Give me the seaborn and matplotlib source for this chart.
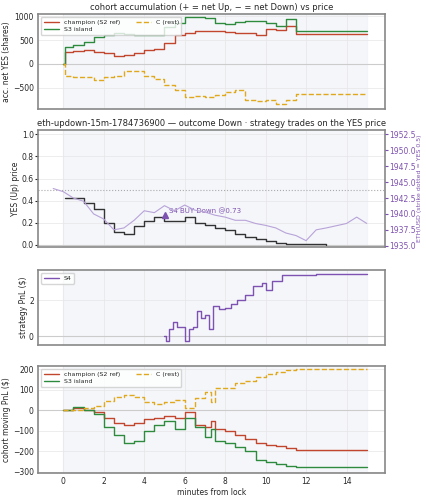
import matplotlib
matplotlib.use("Agg")
import matplotlib.pyplot as plt
import seaborn as sns
import pandas as pd

sns.set_style("whitegrid")
plt.rcParams['font.family'] = ['DejaVu Sans']
plt.rcParams['font.size'] = 5.5

t1 = [0,0.1,0.5,1,1.5,2,2.5,3,3.5,4,4.5,5,5.5,6,6.5,7,7.5,8,8.5,9,9.5,10,10.5,11,11.5,15]
acc_champ = [0,250,270,290,250,230,160,180,230,300,320,440,600,660,700,700,700,680,650,650,610,740,720,790,620,620]
acc_s3 = [0,350,400,470,560,610,640,620,610,600,600,770,870,990,990,970,860,850,880,900,900,860,800,940,700,700]
acc_c = [0,-250,-280,-270,-330,-280,-250,-150,-150,-250,-320,-440,-560,-700,-670,-690,-660,-600,-560,-760,-780,-760,-850,-760,-630,-630]

t_yes = [0.1,0.5,1,1.5,2,2.5,3,3.5,4,4.5,5,5.5,6,6.5,7,7.5,8,8.5,9,9.5,10,10.5,11,12,13]
yes_px = [0.42,0.42,0.38,0.32,0.2,0.12,0.1,0.17,0.22,0.25,0.22,0.22,0.25,0.2,0.18,0.15,0.13,0.1,0.07,0.05,0.03,0.02,0.01,0.005,0.0]
t_eth = [-0.5,0,0.5,1,1.5,2,2.5,3,3.5,4,4.5,5,5.5,6,6.5,7,7.5,8,8.5,9,9.5,10,10.5,11,11.5,12,12.5,13,14,14.5,15]
eth = [1944.0,1943.5,1942.5,1942,1940,1939.2,1937.5,1937.8,1939,1940.5,1940.2,1941.3,1940.5,1941.4,1940.6,1940.3,1939.8,1939.5,1939,1939,1938.5,1938.2,1937.8,1937,1936.6,1935.8,1937.5,1937.8,1938.5,1939.5,1938.5]

t_s4 = [5,5.1,5.2,5.4,5.6,5.8,6,6.2,6.4,6.6,6.8,7,7.2,7.4,7.7,8,8.3,8.6,9,9.4,9.8,10,10.3,10.8,12.5,15]
pnl_s4 = [0,-0.3,0.4,0.8,0.5,0.5,-0.3,0.4,0.5,1.4,1.0,1.2,0.4,1.7,1.5,1.6,1.8,2.0,2.3,2.8,3.0,2.6,3.1,3.4,3.5,3.5]

t4 = [0,0.5,1,1.5,2,2.5,3,3.5,4,4.5,5,5.5,6,6.5,7,7.3,7.5,8,8.5,9,9.5,10,10.5,11,11.5,15]
pnl_champ = [0,10,0,-10,-40,-60,-70,-60,-45,-40,-30,-40,-10,-70,-80,-50,-90,-100,-120,-140,-160,-170,-175,-185,-195,-195]
pnl_s3 = [0,15,0,-20,-80,-120,-160,-150,-100,-70,-50,-90,-40,-80,-130,-90,-150,-160,-180,-200,-240,-250,-260,-270,-275,-275]
pnl_c = [0,0,10,20,45,65,75,65,40,30,40,50,10,60,90,40,110,110,130,140,160,175,185,195,200,200]

C_CH, C_S3, C_C, C_P = "#c2452d", "#2e8b3e", "#e0a81c", "#7e52b0"

fig = plt.figure(figsize=(4.27, 5.0), dpi=100)
W = 427; H = 500
def ax_at(x0, y0, x1, y1):
    return fig.add_axes([x0/W, 1-y1/H, (x1-x0)/W, (y1-y0)/H])
axs = [ax_at(38,14,385,109), ax_at(38,130,385,247), ax_at(38,270,385,345), ax_at(38,366,385,473)]

def style(ax):
    ax.set_xlim(-1.25, 15.9)
    ax.axvspan(0, 15, color="#eef1f8", alpha=0.6, zorder=0)
    ax.axhline(0, color="#cccccc", lw=0.8, zorder=1)
    for s in ax.spines.values():
        s.set_color("#888888"); s.set_linewidth(1.2)
    ax.grid(color="#e6e6e6", lw=0.5)
    ax.tick_params(labelsize=5.5, length=2, pad=1)
    ax.set_xticks([0,2,4,6,8,10,12,14])

def step(ax, x, y, c, label, ls="-"):
    sns.lineplot(x=x, y=y, ax=ax, color=c, label=label, drawstyle="steps-post", lw=1.0, linestyle=ls)

def leg(ax, ncol):
    ax.legend(loc="upper left", ncol=ncol, fontsize=4.5, frameon=True, handlelength=2.4,
              borderpad=0.4, labelspacing=0.3, columnspacing=2.5, framealpha=0.8)

ax = axs[0]; style(ax)
step(ax, t1, acc_champ, C_CH, "champion (S2 ref)")
step(ax, t1, acc_s3, C_S3, "S3 island")
step(ax, t1, acc_c, C_C, "C (rest)", "--")
ax.set_ylim(-950, 1050)
ax.set_ylabel("acc. net YES (shares)", fontsize=5.5, labelpad=1)
ax.set_title("cohort accumulation (+ = net Up, − = net Down) vs price", fontsize=6, pad=3)
leg(ax, 2)
ax.set_xticklabels([])

ax = axs[1]; style(ax)
ax.axhline(0.5, color="#aaaaaa", ls=":", lw=0.8)
step(ax, t_yes, yes_px, "#333333", None)
ax.set_ylim(-0.02, 1.04)
ax.set_ylabel("YES (Up) price", fontsize=5.5, labelpad=1)
ax.set_title("eth-updown-15m-1784736900 — outcome Down · strategy trades on the YES price", fontsize=6, pad=3)
ax.plot([5.05], [0.27], marker="^", color=C_P, ms=5, ls="none")
ax.text(5.2, 0.275, "S4 BUY Down @0.73", color=C_P, fontsize=5, va="bottom")
ax.set_xticklabels([])
ax2 = ax.twinx()
sns.lineplot(x=t_eth, y=eth, ax=ax2, color="#b8a3d8", lw=0.8)
ax2.set_ylim(1934.8, 1953.2)
ax2.set_yticks([1935,1937.5,1940,1942.5,1945,1947.5,1950,1952.5])
ax2.tick_params(colors=C_P, labelsize=5.5, length=2, pad=1)
ax2.set_ylabel("ETH/USD (strike dotted = YES 0.5)", color=C_P, fontsize=4.5, labelpad=1)
ax2.grid(False)
for s in ax2.spines.values():
    s.set_visible(False)

ax = axs[2]; style(ax)
step(ax, t_s4, pnl_s4, C_P, "S4")
ax.set_ylabel("strategy PnL ($)", fontsize=5.5, labelpad=1)
ax.set_ylim(-0.5, 3.7)
leg(ax, 1)
ax.set_xticklabels([])

ax = axs[3]; style(ax)
step(ax, t4, pnl_champ, C_CH, "champion (S2 ref)")
step(ax, t4, pnl_s3, C_S3, "S3 island")
step(ax, t4, pnl_c, C_C, "C (rest)", "--")
ax.set_ylim(-305, 215)
ax.set_ylabel("cohort moving PnL ($)", fontsize=5.5, labelpad=1)
ax.set_xlabel("minutes from lock", fontsize=5.5, labelpad=1)
leg(ax, 2)

fig.savefig("out.png", dpi=100)
